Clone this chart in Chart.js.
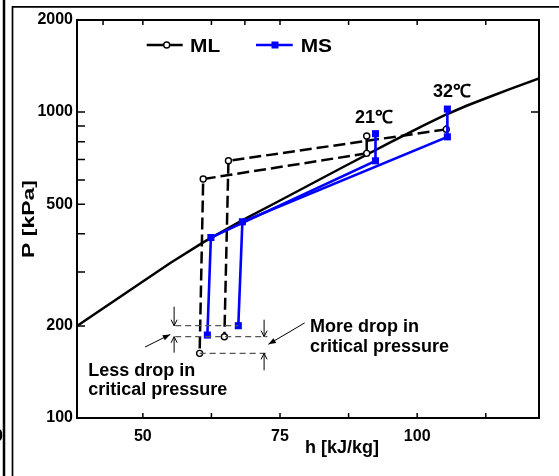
<!DOCTYPE html>
<html><head><meta charset="utf-8">
<script src="https://cdn.jsdelivr.net/npm/chart.js@4.4.1/dist/chart.umd.min.js"></script>
<style>html,body{margin:0;padding:0;background:#fff;overflow:hidden}</style>
</head><body>
<canvas id="c" width="559" height="476" style="display:block;width:559px;height:476px"></canvas>
<script>
// ---- data (h in kJ/kg, P in kPa) ----
const satH = [38, 50, 55, 61, 68, 75, 86, 95, 101, 105.4, 109, 113, 117, 122.2];
const satP = [200, 279.4, 321.1, 374.9, 441.8, 514.1, 654, 795, 902, 984, 1049, 1118, 1191, 1289];

const ml21H = [90.8, 90.8, 61.0, 60.35];
const ml21P = [835, 733, 604, 162.7];
const ml32H = [105.3, 105.3, 65.6, 64.86];
const ml32P = [905, 878, 693, 184.4];

const ms21H = [92.4, 92.4, 62.4, 61.76];
const ms21P = [850, 693, 389, 186.7];
const ms32H = [105.5, 105.5, 68.14, 67.4];
const ms32P = [1023, 830, 438, 200.3];

const xTickLabels = [50, 75, 100];
const xMinorTicks = [50, 62.5, 75, 87.5, 100, 112.5];
const xTopExtraTicks = [42.75, 68.6];
const yTickLabels = [100, 200, 500, 1000, 2000];
const yMinorTicks = [300, 400, 600, 700, 800, 900];
const tempLabels = ['21\u2103', '32\u2103'];

const FONT = '"Liberation Sans", Arial, Helvetica, sans-serif';
const BLUE = '#0000ff';
const pts = (hs, ps) => hs.map((h, i) => ({x: h, y: ps[i]}));

const dashML = [12, 5];
const mlCommon = {
  showLine: true, borderColor: '#000', borderWidth: 2.5,
  pointStyle: 'circle', pointBackgroundColor: '#fff', pointBorderColor: '#000', pointBorderWidth: 1.4,
  segment: { borderDash: c => c.p0DataIndex === 0 ? [] : dashML }
};
const msCommon = {
  showLine: true, borderColor: BLUE, borderWidth: 2.6,
  pointStyle: 'rect', pointRadius: 5, pointBackgroundColor: BLUE, pointBorderColor: BLUE, pointBorderWidth: 0
};

const deco = {
  id: 'deco',
  afterDraw(chart) {
    const {ctx, chartArea: a, scales: {x, y}} = chart;
    const X = v => x.getPixelForValue(v), Y = v => y.getPixelForValue(v);
    ctx.save();
    // outer figure frame
    ctx.strokeStyle = '#000';
    ctx.lineWidth = 2.5;
    ctx.beginPath(); ctx.moveTo(4, 0); ctx.lineTo(4, 476); ctx.stroke();
    ctx.lineWidth = 1.7;
    ctx.beginPath(); ctx.moveTo(12.5, 476); ctx.lineTo(12.5, 6.8); ctx.lineTo(559, 6.8); ctx.stroke();
    ctx.fillStyle = '#000';
    ctx.font = 'bold 16px ' + FONT; ctx.textAlign = 'right'; ctx.textBaseline = 'middle';
    ctx.fillText('0', 3, 437);

    // plot frame
    ctx.lineWidth = 2;
    ctx.strokeRect(a.left, a.top, a.right - a.left, a.bottom - a.top);

    // inward ticks
    ctx.lineWidth = 1.5;
    ctx.beginPath();
    yTickLabels.concat(yMinorTicks).forEach(v => {
      if (v > 100 && v < 2000) { const py = Y(v); ctx.moveTo(a.left, py); ctx.lineTo(a.left + 8, py); }
    });
    ctx.moveTo(a.right, Y(1000)); ctx.lineTo(a.right - 8, Y(1000));
    xMinorTicks.forEach(v => {
      const px = X(v);
      ctx.moveTo(px, a.bottom); ctx.lineTo(px, a.bottom - 5);
      ctx.moveTo(px, a.top); ctx.lineTo(px, a.top + 5);
    });
    xTopExtraTicks.forEach(v => { const px = X(v); ctx.moveTo(px, a.top); ctx.lineTo(px, a.top + 5); });
    ctx.stroke();

    // axis titles
    ctx.fillStyle = '#000';
    ctx.font = 'bold 18px ' + FONT;
    ctx.textAlign = 'center'; ctx.textBaseline = 'alphabetic';
    ctx.fillText('h [kJ/kg]', 342, 453);
    ctx.save();
    ctx.translate(33.5, 219); ctx.rotate(-Math.PI / 2); ctx.scale(1.35, 1);
    ctx.font = 'bold 17px ' + FONT;
    ctx.fillText('P [kPa]', 0, 0);
    ctx.restore();

    // legend
    ctx.lineWidth = 2.5;
    ctx.strokeStyle = '#000';
    ctx.beginPath(); ctx.moveTo(146.7, 45); ctx.lineTo(182.7, 45); ctx.stroke();
    ctx.beginPath(); ctx.arc(166.7, 45, 3, 0, Math.PI * 2);
    ctx.fillStyle = '#fff'; ctx.fill(); ctx.lineWidth = 1.4; ctx.stroke();
    ctx.strokeStyle = BLUE; ctx.lineWidth = 2.5;
    ctx.beginPath(); ctx.moveTo(256, 45); ctx.lineTo(292.7, 45); ctx.stroke();
    ctx.fillStyle = BLUE; ctx.fillRect(271.5, 41.5, 7, 7);
    ctx.fillStyle = '#000';
    ctx.font = 'bold 19px ' + FONT; ctx.textAlign = 'left'; ctx.textBaseline = 'alphabetic';
    ctx.save(); ctx.translate(190, 51.7); ctx.scale(1.1, 1); ctx.fillText('ML', 0, 0); ctx.restore();
    ctx.save(); ctx.translate(300.7, 51.7); ctx.scale(1.1, 1); ctx.fillText('MS', 0, 0); ctx.restore();

    // temperature labels
    ctx.font = 'bold 18px ' + FONT;
    ctx.fillText(tempLabels[0], X(88.66), Y(918));
    ctx.fillText(tempLabels[1], X(102.9), Y(1124));

    // annotation: dashed guide lines at the low-side pressures
    ctx.strokeStyle = '#555'; ctx.lineWidth = 1.3; ctx.setLineDash([6, 4]);
    ctx.beginPath();
    ctx.moveTo(X(55.9), Y(ms32P[3])); ctx.lineTo(X(ms32H[3]), Y(ms32P[3]));
    ctx.moveTo(X(55.9), Y(ml32P[3])); ctx.lineTo(X(72.7), Y(ml32P[3]));
    ctx.moveTo(X(ml21H[3]), Y(ml21P[3])); ctx.lineTo(X(72.7), Y(ml21P[3]));
    ctx.stroke();
    ctx.setLineDash([]);

    // arrows
    ctx.strokeStyle = '#000'; ctx.fillStyle = '#000'; ctx.lineWidth = 1;
    const vArrow = (px, yFrom, yTo) => {
      const d = yTo > yFrom ? 1 : -1;
      ctx.beginPath(); ctx.moveTo(px, yFrom); ctx.lineTo(px, yTo);
      ctx.moveTo(px - 3, yTo - d * 6); ctx.lineTo(px, yTo); ctx.lineTo(px + 3, yTo - d * 6);
      ctx.stroke();
    };
    const dArrow = (x0, y0, x1, y1) => {
      const ang = Math.atan2(y1 - y0, x1 - x0);
      ctx.beginPath(); ctx.moveTo(x0, y0); ctx.lineTo(x1, y1); ctx.stroke();
      ctx.beginPath(); ctx.moveTo(x1, y1);
      ctx.lineTo(x1 - 8 * Math.cos(ang - 0.35), y1 - 8 * Math.sin(ang - 0.35));
      ctx.lineTo(x1 - 8 * Math.cos(ang + 0.35), y1 - 8 * Math.sin(ang + 0.35));
      ctx.closePath(); ctx.fill();
    };
    const xl = X(55.7), xr = X(72.1);
    vArrow(xl, Y(ms32P[3]) - 19, Y(ms32P[3]));
    vArrow(xl, Y(ml32P[3]) + 16, Y(ml32P[3]));
    vArrow(xr, Y(ml32P[3]) - 17, Y(ml32P[3]));
    vArrow(xr, Y(ml21P[3]) + 17, Y(ml21P[3]));
    dArrow(X(50.4), Y(170.6), X(55.0), Y(187.6));
    dArrow(X(79.5), Y(204.6), X(72.87), Y(174.1));

    // annotation texts
    ctx.font = 'bold 18px ' + FONT; ctx.textAlign = 'left'; ctx.textBaseline = 'alphabetic';
    ctx.fillText('Less drop in', X(40.04), Y(137.1));
    ctx.fillText('critical pressure', X(40.04), Y(118.9));
    ctx.fillText('More drop in', X(80.46), Y(191.4));
    ctx.fillText('critical pressure', X(80.46), Y(164.7));
    ctx.restore();
  }
};

new Chart(document.getElementById('c'), {
  type: 'scatter',
  data: {
    datasets: [
      Object.assign({label: 'MS 21', data: pts(ms21H, ms21P)}, msCommon),
      Object.assign({label: 'MS 32', data: pts(ms32H, ms32P)}, msCommon),
      Object.assign({label: 'ML 21', data: pts(ml21H, ml21P), pointRadius: 3}, mlCommon),
      Object.assign({label: 'ML 32', data: pts(ml32H, ml32P), pointRadius: [0, 3, 3, 3]}, mlCommon),
      {label: 'sat', data: pts(satH, satP), showLine: true, borderColor: '#000', borderWidth: 2.5, pointRadius: 0}
    ]
  },
  options: {
    responsive: false, animation: false, devicePixelRatio: 1, events: [],
    layout: {padding: {left: 0, top: 20, right: 20, bottom: 0}},
    plugins: {legend: {display: false}, tooltip: {enabled: false}},
    scales: {
      x: {
        type: 'linear', min: 38, max: 122.2,
        grid: {display: false, drawTicks: false}, border: {display: false},
        afterBuildTicks: s => { s.ticks = xTickLabels.map(v => ({value: v})); },
        afterFit: s => { s.height = 58; },
        ticks: {color: '#000', padding: 9, maxRotation: 0, font: {family: FONT, size: 16, weight: 'bold'}, callback: v => String(v)}
      },
      y: {
        type: 'logarithmic', min: 100, max: 2000,
        grid: {display: false, drawTicks: false}, border: {display: false},
        afterBuildTicks: s => { s.ticks = yTickLabels.map(v => ({value: v})); },
        afterFit: s => { s.width = 77; },
        ticks: {color: '#000', padding: 4, font: {family: FONT, size: 16, weight: 'bold'}, callback: v => String(v)}
      }
    }
  },
  plugins: [deco]
});
</script>
</body></html>
